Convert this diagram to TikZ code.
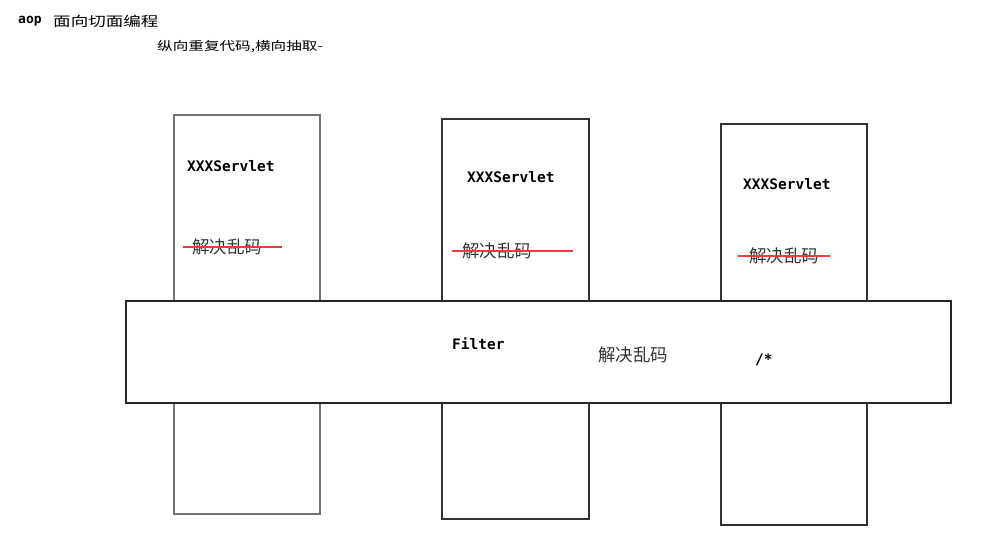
\documentclass[tikz,border=0pt]{standalone}
\usepackage{fontspec}
\newfontfamily\cjk{Noto Sans CJK SC}
\newfontfamily\cjkwide[FakeStretch=1.3]{Noto Sans CJK SC}
\newfontfamily\monofont{DejaVu Sans Mono}
\definecolor{strikered}{RGB}{235,60,60}
\begin{document}
\begin{tikzpicture}[x=1pt,y=-1pt,
  servlet/.style={draw=black!80, line width=1.3pt, fill=white, anchor=north west, inner sep=0pt, outer sep=0pt},
  filterbar/.style={draw=black!85, line width=1.3pt, fill=white, anchor=north west, inner sep=0pt, outer sep=0pt},
  code/.style={font=\monofont\bfseries\fontsize{14.5}{16}\selectfont, anchor=west, inner sep=0pt},
  zh/.style={font=\cjk\fontsize{17.5}{20}\selectfont, text=black!80, anchor=west, inner sep=0pt},
  strike/.style={draw=strikered, line width=1.4pt}]
\useasboundingbox (0,0) rectangle (1004,547);

% title lines
\node[font=\monofont\bfseries\fontsize{13}{15}\selectfont, anchor=west, inner sep=0pt] (aop) at (18,21) {aop};
\node[font=\cjkwide\fontsize{13.5}{16}\selectfont, anchor=west, inner sep=0pt] (title) at (53,21) {面向切面编程};
\node[font=\cjkwide\fontsize{12}{15}\selectfont, anchor=west, inner sep=0pt] (sub) at (157,47) {纵向重复代码,横向抽取-};

% three servlet columns
\node[servlet, draw=black!55, minimum width=146pt, minimum height=399pt] (s1) at (174,115) {};
\node[servlet, minimum width=147pt, minimum height=400pt] (s2) at (442,119) {};
\node[servlet, minimum width=146pt, minimum height=401pt] (s3) at (721,124) {};

% filter bar laid across the columns
\node[filterbar, minimum width=825pt, minimum height=102pt] (f) at (126,301) {};

% servlet contents
\node[code] (t1) at (187,166) {XXXServlet};
\node[code] (t2) at (467,177) {XXXServlet};
\node[code] (t3) at (743,184) {XXXServlet};

\node[zh] (z1) at (192,247) {解决乱码};
\node[zh] (z2) at (462,251) {解决乱码};
\node[zh] (z3) at (749,256) {解决乱码};

\draw[strike] ([xshift=-9pt]z1.west) -- ([xshift=20pt]z1.east);
\draw[strike] ([xshift=-10pt]z2.west) -- ([xshift=41pt]z2.east);
\draw[strike] ([xshift=-11pt]z3.west) -- ([xshift=11pt]z3.east);

% filter contents
\node[code] (ft) at (452,344) {Filter};
\node[zh] (fz) at (598,355) {解决乱码};
\node[code] (fs) at (755,360) {/*};
\end{tikzpicture}
\end{document}
